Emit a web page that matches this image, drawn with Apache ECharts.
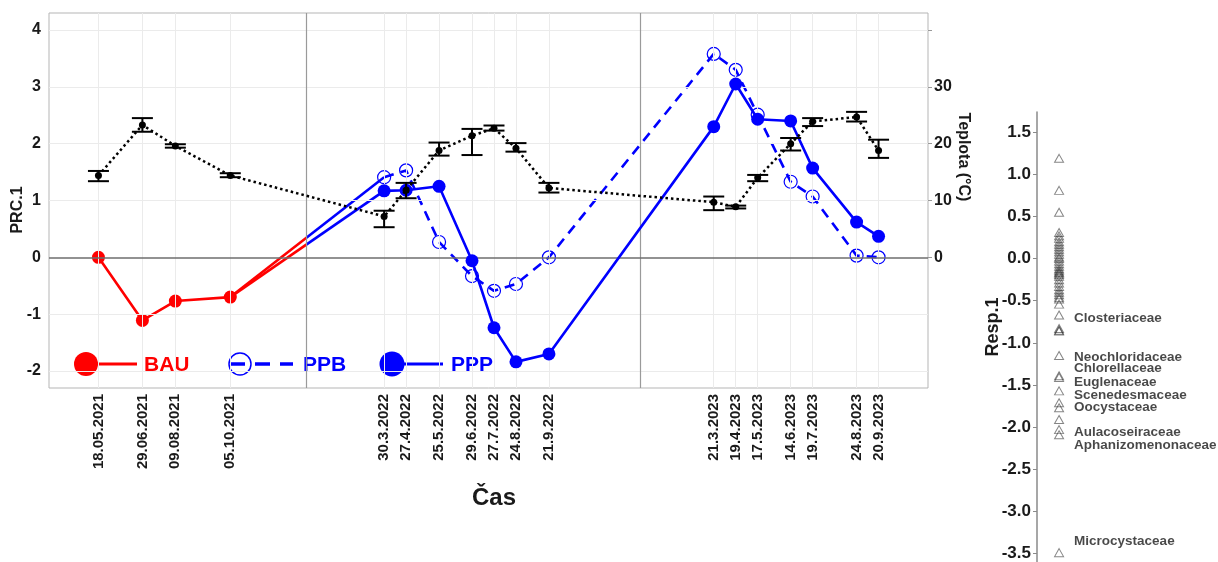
<!DOCTYPE html>
<html>
<head>
<meta charset="utf-8">
<script src="https://cdn.jsdelivr.net/npm/echarts@6/dist/echarts.min.js"></script>
<style>
html,body{margin:0;padding:0;background:#fff;}
#chart{width:1218px;height:562px;}
</style>
</head>
<body>
<div id="chart"></div>
<script>
// ---------------- data ----------------
const xPos = [0, 4, 7, 12, 26, 28, 31, 34, 36, 38, 41, 56, 58, 60, 63, 65, 69, 71];
const dateLabels = ['18.05.2021','29.06.2021','09.08.2021','05.10.2021',
  '30.3.2022','27.4.2022','25.5.2022','29.6.2022','27.7.2022','24.8.2022','21.9.2022',
  '21.3.2023','19.4.2023','17.5.2023','14.6.2023','19.7.2023','24.8.2023','20.9.2023'];
const yearBreaks = [18.9, 49.3];

const bauX = [0, 4, 7, 12];
const bauValues = [0, -1.11, -0.77, -0.70];

const treatX = [26, 28, 31, 34, 36, 38, 41, 56, 58, 60, 63, 65, 69, 71];
const ppbValues = [1.41, 1.53, 0.27, -0.33, -0.59, -0.47, 0.00, 3.58, 3.30, 2.51, 1.33, 1.07, 0.03, 0.00];
const pppValues = [1.17, 1.18, 1.25, -0.06, -1.24, -1.84, -1.70, 2.30, 3.05, 2.43, 2.40, 1.57, 0.62, 0.37];

const tempMean = [14.4, 23.3, 19.6, 14.4, 7.2, 11.8, 18.8, 21.4, 22.7, 19.2, 12.2, 9.7, 8.9, 14.0, 20.0, 23.9, 24.7, 18.8];
const tempLow  = [13.4, 22.1, 19.3, 14.1, 5.3, 10.4, 17.9, 18.0, 22.3, 18.6, 11.4, 8.3, 8.6, 13.4, 18.8, 23.1, 23.9, 17.5];
const tempHigh = [15.2, 24.5, 19.9, 14.8, 8.2, 13.1, 20.2, 22.6, 23.2, 20.1, 13.1, 10.7, 9.1, 14.5, 21.0, 24.5, 25.6, 20.7];

const prcTicks = [-2, -1, 0, 1, 2, 3, 4];
const tempTicks = [0, 10, 20, 30, 40];
const tempLabels = [0, 10, 20, 30];
const respTicks = [-3.5, -3.0, -2.5, -2.0, -1.5, -1.0, -0.5, 0.0, 0.5, 1.0, 1.5];

const respValues = [1.19, 0.81, 0.55, 0.31, 0.27, 0.24, 0.20, 0.17, 0.14, 0.11, 0.08, 0.05, 0.02, 0.00,
  -0.03, -0.06, -0.09, -0.12, -0.14, -0.16, -0.17, -0.19, -0.21, -0.25, -0.29, -0.33, -0.37, -0.40,
  -0.43, -0.46, -0.48, -0.54, -0.67, -0.83, -0.85, -0.86, -1.15, -1.39, -1.41, -1.57, -1.71, -1.77,
  -1.91, -2.03, -2.09, -3.49];
const familyNames = ['Closteriaceae','Neochloridaceae','Chlorellaceae','Euglenaceae','Scenedesmaceae',
  'Oocystaceae','Aulacoseiraceae','Aphanizomenonaceae','Microcystaceae'];
const familyLabelY = [-0.71, -1.17, -1.30, -1.47, -1.62, -1.76, -2.06, -2.21, -3.35];

// ---------------- chart ----------------
const RED = '#ff0000', BLUE = '#0000ff';
const FONT = 'Liberation Sans, Arial, sans-serif';
const labelMap = {};
xPos.forEach((x, i) => { labelMap[x] = dateLabels[i]; });

// hard colour switch (red -> blue) of the 2021 -> 2022 connectors at the year boundary
const breakFrac = (yearBreaks[0] - bauX[3]) / (treatX[0] - bauX[3]);
function connectorColor() {
  return new echarts.graphic.LinearGradient(0, 0, 1, 0, [
    {offset: 0, color: RED}, {offset: breakFrac, color: RED},
    {offset: breakFrac, color: BLUE}, {offset: 1, color: BLUE}
  ]);
}

const chart = echarts.init(document.getElementById('chart'), null, {renderer: 'canvas'});

const option = {
  backgroundColor: '#ffffff',
  animation: false,
  grid: [
    {left: 49, right: 290, top: 13, bottom: 174, show: true, borderColor: '#b5b5b5', borderWidth: 1, backgroundColor: 'transparent'},
    {left: 1037, right: 0, top: 112, bottom: 0, show: false}
  ],
  xAxis: [
    {
      type: 'value', gridIndex: 0, min: -4.5, max: 75.5,
      splitLine: {show: false},
      axisLine: {show: false},
      axisTick: {show: true, length: 4, lineStyle: {color: '#999'}, customValues: xPos},
      axisLabel: {
        show: true, customValues: xPos, rotate: 90, margin: 6,
        fontFamily: FONT, fontWeight: 'bold', fontSize: 15, color: '#1a1a1a',
        formatter: v => labelMap[v] || ''
      }
    },
    {type: 'value', gridIndex: 1, min: 0, max: 8.2, show: false}
  ],
  yAxis: [
    {
      type: 'value', gridIndex: 0, min: -2.3, max: 4.3,
      splitLine: {show: false}, axisLine: {show: false},
      axisTick: {show: true, length: 4, lineStyle: {color: '#999'}, customValues: prcTicks},
      axisLabel: {customValues: prcTicks, margin: 8, fontFamily: FONT, fontWeight: 'bold', fontSize: 16, color: '#1a1a1a'}
    },
    {
      type: 'value', gridIndex: 0, min: -23, max: 43, position: 'right',
      splitLine: {show: false}, axisLine: {show: false},
      axisTick: {show: true, length: 4, lineStyle: {color: '#999'}, customValues: tempTicks},
      axisLabel: {customValues: tempLabels, margin: 6, fontFamily: FONT, fontWeight: 'bold', fontSize: 16, color: '#1a1a1a'}
    },
    {
      type: 'value', gridIndex: 1, min: -3.6, max: 1.74,
      splitLine: {show: false},
      axisLine: {show: true, lineStyle: {color: '#8a8a8a', width: 1.5}},
      axisTick: {show: true, length: 4, lineStyle: {color: '#8a8a8a'}, customValues: respTicks},
      axisLabel: {customValues: respTicks, margin: 6, fontFamily: FONT, fontWeight: 'bold', fontSize: 17, color: '#1a1a1a',
        formatter: v => Number(v).toFixed(1)}
    }
  ],
  series: [
    { // background grid lines
      type: 'line', xAxisIndex: 0, yAxisIndex: 0, data: [], silent: true, z: 0,
      markLine: {
        silent: true, symbol: 'none', label: {show: false}, animation: false,
        lineStyle: {color: '#ebebeb', type: 'solid', width: 1},
        emphasis: {disabled: true},
        data: xPos.map(v => ({xAxis: v})).concat(prcTicks.filter(v => v !== 0).map(v => ({yAxis: v})))
      }
    },
    { // year separators and zero line
      type: 'line', xAxisIndex: 0, yAxisIndex: 0, data: [], silent: true, z: 1,
      markLine: {
        silent: true, symbol: 'none', label: {show: false}, animation: false,
        emphasis: {disabled: true},
        data: yearBreaks.map(v => ({xAxis: v, lineStyle: {color: '#9a9a9a', width: 1.2, type: 'solid'}}))
          .concat([{yAxis: 0, lineStyle: {color: '#6e6e6e', width: 1.5, type: 'solid'}}])
      }
    },
    { // connector BAU -> PPB
      type: 'line', xAxisIndex: 0, yAxisIndex: 0, z: 3, symbol: 'none', silent: true,
      lineStyle: {width: 2.6, color: connectorColor()},
      data: [[bauX[3], bauValues[3]], [treatX[0], ppbValues[0]]]
    },
    { // connector BAU -> PPP
      type: 'line', xAxisIndex: 0, yAxisIndex: 0, z: 3, symbol: 'none', silent: true,
      lineStyle: {width: 2.6, color: connectorColor()},
      data: [[bauX[3], bauValues[3]], [treatX[0], pppValues[0]]]
    },
    {
      name: 'BAU', type: 'line', xAxisIndex: 0, yAxisIndex: 0, z: 4,
      symbol: 'circle', symbolSize: 13, color: RED,
      lineStyle: {width: 2.6, color: RED}, itemStyle: {color: RED},
      data: bauX.map((x, i) => [x, bauValues[i]])
    },
    {
      name: 'PPB', type: 'line', xAxisIndex: 0, yAxisIndex: 0, z: 4,
      symbol: 'circle', symbolSize: 13, color: BLUE,
      lineStyle: {width: 2.6, color: BLUE, type: [10, 7]},
      itemStyle: {color: 'rgba(255,255,255,0)', borderColor: BLUE, borderWidth: 1.2},
      data: treatX.map((x, i) => [x, ppbValues[i]])
    },
    {
      name: 'PPP', type: 'line', xAxisIndex: 0, yAxisIndex: 0, z: 5,
      symbol: 'circle', symbolSize: 13, color: BLUE,
      lineStyle: {width: 2.6, color: BLUE}, itemStyle: {color: BLUE},
      data: treatX.map((x, i) => [x, pppValues[i]])
    },
    {
      name: 'Teplota', type: 'line', xAxisIndex: 0, yAxisIndex: 1, z: 6,
      symbol: 'circle', symbolSize: 7, color: '#000',
      lineStyle: {width: 2.5, color: '#000', type: [2.5, 3]}, itemStyle: {color: '#000'},
      data: xPos.map((x, i) => [x, tempMean[i]])
    },
    {
      name: 'TeplotaErr', type: 'custom', xAxisIndex: 0, yAxisIndex: 1, z: 6, silent: true,
      data: xPos.map((x, i) => [x, tempLow[i], tempHigh[i]]),
      encode: {x: 0, y: [1, 2]},
      renderItem: function (params, api) {
        const x = api.value(0);
        const lo = api.coord([x, api.value(1)]);
        const hi = api.coord([x, api.value(2)]);
        const hw = 10.5;
        const st = {stroke: '#000', lineWidth: 2};
        return {type: 'group', children: [
          {type: 'line', shape: {x1: lo[0], y1: lo[1], x2: hi[0], y2: hi[1]}, style: st},
          {type: 'line', shape: {x1: lo[0] - hw, y1: lo[1], x2: lo[0] + hw, y2: lo[1]}, style: st},
          {type: 'line', shape: {x1: hi[0] - hw, y1: hi[1], x2: hi[0] + hw, y2: hi[1]}, style: st}
        ]};
      }
    },
    {
      name: 'Resp', type: 'scatter', xAxisIndex: 1, yAxisIndex: 2, z: 3,
      symbol: 'triangle', symbolSize: [9, 8],
      itemStyle: {color: 'rgba(0,0,0,0)', borderColor: 'rgba(40,40,40,0.7)', borderWidth: 1},
      data: respValues.map(v => [1, v])
    },
    {
      name: 'RespLabels', type: 'scatter', xAxisIndex: 1, yAxisIndex: 2, z: 3, silent: true,
      symbolSize: 0,
      label: {show: true, position: 'right', distance: 15, formatter: p => p.name,
        fontFamily: FONT, fontWeight: 'bold', fontSize: 13.5, color: '#1a1a1a'},
      data: familyNames.map((n, i) => ({name: n, value: [1, familyLabelY[i]]}))
    }
  ],
  graphic: [
    // axis titles
    {type: 'text', x: 18, y: 210, rotation: Math.PI / 2,
      style: {text: 'PRC.1', font: 'bold 16px ' + FONT, fill: '#1a1a1a', align: 'center', verticalAlign: 'middle'}},
    {type: 'text', x: 963, y: 157, rotation: -Math.PI / 2,
      style: {text: 'Teplota (°C)', font: 'bold 16px ' + FONT, fill: '#1a1a1a', align: 'center', verticalAlign: 'middle'}},
    {type: 'text', x: 494, y: 498,
      style: {text: 'Čas', font: 'bold 24px ' + FONT, fill: '#1a1a1a', align: 'center', verticalAlign: 'middle'}},
    {type: 'text', x: 993, y: 327, rotation: Math.PI / 2,
      style: {text: 'Resp.1', font: 'bold 18px ' + FONT, fill: '#1a1a1a', align: 'center', verticalAlign: 'middle'}},
    // legend
    {type: 'group', z: 20, children: [
      {type: 'line', shape: {x1: 86, y1: 364, x2: 137, y2: 364}, style: {stroke: RED, lineWidth: 3}},
      {type: 'circle', shape: {cx: 86, cy: 364, r: 12}, style: {fill: RED}},
      {type: 'text', x: 144, y: 365, style: {text: 'BAU', font: 'bold 21px ' + FONT, fill: RED, verticalAlign: 'middle'}},
      {type: 'line', shape: {x1: 230, y1: 364, x2: 293, y2: 364}, style: {stroke: BLUE, lineWidth: 3.5, lineDash: [15, 10]}},
      {type: 'circle', shape: {cx: 240, cy: 364, r: 11}, style: {fill: 'none', stroke: BLUE, lineWidth: 1.5}},
      {type: 'text', x: 303, y: 365, style: {text: 'PPB', font: 'bold 21px ' + FONT, fill: BLUE, verticalAlign: 'middle'}},
      {type: 'line', shape: {x1: 392, y1: 364, x2: 443, y2: 364}, style: {stroke: BLUE, lineWidth: 3}},
      {type: 'circle', shape: {cx: 392, cy: 364, r: 12.5}, style: {fill: BLUE}},
      {type: 'text', x: 451, y: 365, style: {text: 'PPP', font: 'bold 21px ' + FONT, fill: BLUE, verticalAlign: 'middle'}}
    ]}
  ]
};
chart.setOption(option);
</script>
</body>
</html>
